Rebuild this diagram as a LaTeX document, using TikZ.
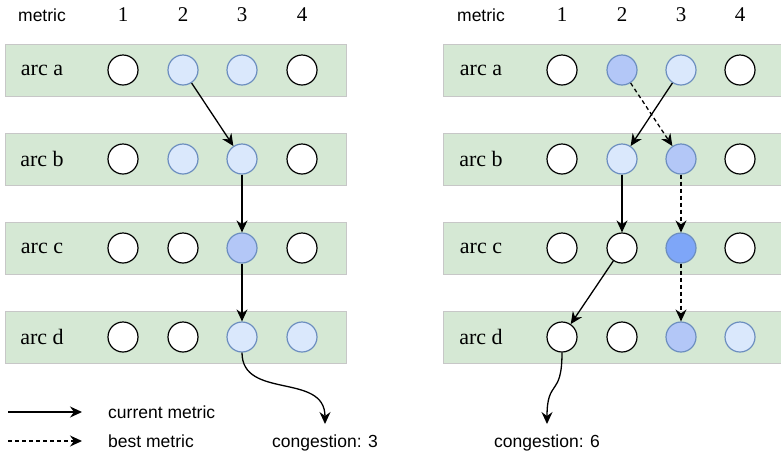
\documentclass[tikz,border=0pt]{standalone}
\usepackage{fontspec}
\setmainfont{Liberation Serif}
\setsansfont{Liberation Sans}
\usetikzlibrary{arrows.meta}
\definecolor{lb}{HTML}{DAE8FC}
\definecolor{mb}{HTML}{B3C7F7}
\definecolor{db}{HTML}{7EA6F8}
\definecolor{bs}{HTML}{6C8EBF}
\definecolor{gr}{HTML}{D5E8D4}
\tikzset{
  band/.style={fill=gr, draw=black!22, line width=0.8pt},
  wc/.style={circle, draw=black, fill=white, line width=1.2pt, minimum size=30pt, inner sep=0pt},
  lc/.style={wc, draw=bs, fill=lb},
  mc/.style={wc, draw=bs, fill=mb},
  dc/.style={wc, draw=bs, fill=db},
  arr/.style={-{Stealth[length=12pt,width=11pt,inset=4pt]}, line width=1.3pt},
  darr/.style={arr, dash pattern=on 4pt off 3pt},
  lbl/.style={font=\fontsize{22}{26}\selectfont, inner sep=0pt},
  num/.style={font=\fontsize{21}{24}\selectfont, inner sep=0pt},
  sans/.style={font=\sffamily\fontsize{17.5}{20}\selectfont, inner sep=0pt},
}
\begin{document}
\begin{tikzpicture}[x=1pt,y=-1pt]
\useasboundingbox (0,0) rectangle (781,451);
% bands and labels
\foreach \r/\y in {a/70,b/159,c/248,d/337}{
  \draw[band] (5,\y-26) rectangle (346,\y+26);
  \draw[band] (443,\y-26) rectangle (781,\y+26);
  \node[lbl] (la\r) at (42,\y) {arc \r};
  \node[lbl] (ra\r) at (481,\y) {arc \r};
}
% headers
\node[sans] (lm) at (42,15) {metric};
\node[sans] (rm) at (481,15) {metric};
\foreach \i/\lx/\rx in {1/123/562,2/183/622,3/242/681,4/302/740}{
  \node[num] (ln\i) at (\lx,15) {\i};
  \node[num] (rn\i) at (\rx,15) {\i};
}
% left circles
\node[wc] (La1) at (123,70) {}; \node[lc] (La2) at (183,70) {}; \node[lc] (La3) at (242,70) {}; \node[wc] (La4) at (302,70) {};
\node[wc] (Lb1) at (123,159) {}; \node[lc] (Lb2) at (183,159) {}; \node[lc] (Lb3) at (242,159) {}; \node[wc] (Lb4) at (302,159) {};
\node[wc] (Lc1) at (123,248) {}; \node[wc] (Lc2) at (183,248) {}; \node[mc] (Lc3) at (242,248) {}; \node[wc] (Lc4) at (302,248) {};
\node[wc] (Ld1) at (123,337) {}; \node[wc] (Ld2) at (183,337) {}; \node[lc] (Ld3) at (242,337) {}; \node[lc] (Ld4) at (302,337) {};
% right circles
\node[wc] (Ra1) at (562,70) {}; \node[mc] (Ra2) at (622,70) {}; \node[lc] (Ra3) at (681,70) {}; \node[wc] (Ra4) at (740,70) {};
\node[wc] (Rb1) at (562,159) {}; \node[lc] (Rb2) at (622,159) {}; \node[mc] (Rb3) at (681,159) {}; \node[wc] (Rb4) at (740,159) {};
\node[wc] (Rc1) at (562,248) {}; \node[wc] (Rc2) at (622,248) {}; \node[dc] (Rc3) at (681,248) {}; \node[wc] (Rc4) at (740,248) {};
\node[wc] (Rd1) at (562,337) {}; \node[wc] (Rd2) at (622,337) {}; \node[mc] (Rd3) at (681,337) {}; \node[lc] (Rd4) at (740,337) {};
% congestion labels
\node[sans, anchor=base] (lcg) at (325,447) {congestion: 3};
\node[sans, anchor=base] (rcg) at (547,447) {congestion: 6};
\coordinate (lend) at (325,424);
\coordinate (rend) at (547,424);
% left arrows
\draw[arr] (La2) -- (Lb3);
\draw[arr] (Lb3) -- (Lc3);
\draw[arr] (Lc3) -- (Ld3);
\draw[arr] (Ld3.south) .. controls (242,400) and (325,372) .. (lend);
% right arrows
\draw[arr] (Ra3) -- (Rb2);
\draw[darr] (Ra2) -- (Rb3);
\draw[arr] (Rb2) -- (Rc2);
\draw[darr] (Rb3) -- (Rc3);
\draw[arr] (Rc2) -- (Rd1);
\draw[darr] (Rc3) -- (Rd3);
\draw[arr] (Rd1.south) .. controls (562,398) and (547,378) .. (rend);
% legend
\coordinate (l1s) at (8,412); \coordinate (l1e) at (82,412);
\coordinate (l2s) at (8,441); \coordinate (l2e) at (82,441);
\draw[arr] (l1s) -- (l1e);
\draw[darr] (l2s) -- (l2e);
\node[sans, anchor=west] (lcur) at (108,412) {current metric};
\node[sans, anchor=west] (lbest) at (108,441) {best metric};
\end{tikzpicture}
\end{document}
